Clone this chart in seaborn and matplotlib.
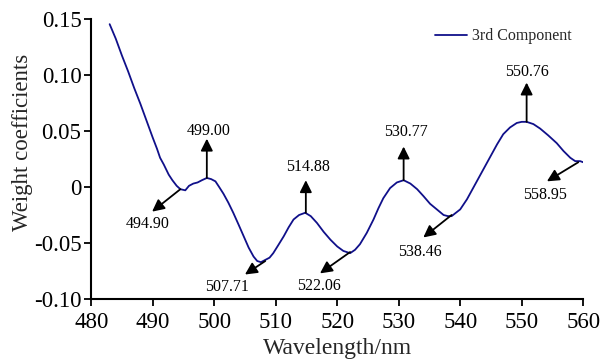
import matplotlib
matplotlib.use("Agg")
import matplotlib.pyplot as plt
import seaborn as sns
import pandas as pd

# wavelength (nm) and weight coefficients
wavelength = [483.0, 484.0, 485.0, 486.0, 487.0, 488.0, 489.0, 490.0, 490.7, 491.2,
              491.8, 492.6, 493.2, 493.9, 494.5, 495.3, 495.9, 496.6, 497.3, 498.0,
              498.8, 499.5, 500.2, 500.8, 501.5, 502.3, 503.1, 504.0, 504.8, 505.6,
              506.4, 507.0, 507.6, 508.3, 509.0, 509.6, 510.4, 511.3, 512.1, 512.9,
              513.8, 514.8, 515.7, 516.7, 517.8, 518.9, 520.0, 521.0, 522.1, 522.9,
              523.7, 524.8, 525.9, 526.7, 527.5, 528.6, 529.7, 530.8, 531.9, 533.0,
              534.0, 535.1, 536.2, 537.3, 538.0, 538.6, 539.3, 540.0, 541.1, 542.2,
              543.5, 544.9, 546.0, 547.0, 548.1, 549.2, 550.0, 550.8, 551.9, 553.0,
              554.3, 555.7, 556.8, 557.9, 558.7, 559.5, 560.0]
weight = [0.145, 0.132, 0.117, 0.103, 0.088, 0.074, 0.059, 0.044, 0.034, 0.026,
          0.020, 0.011, 0.006, 0.001, -0.002, -0.003, 0.001, 0.003, 0.004, 0.006,
          0.008, 0.007, 0.005, 0.000, -0.006, -0.014, -0.023, -0.034, -0.044, -0.054,
          -0.062, -0.066, -0.067, -0.065, -0.063, -0.059, -0.052, -0.044, -0.036, -0.029,
          -0.025, -0.023, -0.026, -0.032, -0.040, -0.047, -0.053, -0.057, -0.059, -0.056,
          -0.051, -0.041, -0.029, -0.019, -0.010, -0.001, 0.004, 0.006, 0.003, -0.002,
          -0.008, -0.015, -0.020, -0.025, -0.026, -0.026, -0.023, -0.020, -0.011, 0.000,
          0.013, 0.027, 0.038, 0.047, 0.053, 0.057, 0.058, 0.058, 0.056, 0.052,
          0.046, 0.039, 0.032, 0.026, 0.023, 0.023, 0.022]

# peak / valley labels
peak_labels = ["494.90", "499.00", "507.71", "514.88", "522.06", "530.77", "538.46", "550.76", "558.95"]
# arrow start (on curve), arrow tip, text centre
arrow_start = [(494.5, -0.002), (498.8, 0.008), (508.3, -0.066), (514.9, -0.023), (522.1, -0.058),
               (530.8, 0.006), (538.6, -0.025), (550.8, 0.058), (559.2, 0.022)]
arrow_tip = [(489.9, -0.022), (498.8, 0.043), (505.0, -0.078), (514.9, 0.006), (517.2, -0.077),
             (530.8, 0.036), (534.0, -0.045), (550.8, 0.093), (554.1, 0.005)]
text_pos = [(489.2, -0.033), (499.1, 0.050), (502.1, -0.089), (515.3, 0.018), (517.0, -0.088),
            (531.1, 0.049), (533.5, -0.058), (550.9, 0.102), (553.8, -0.007)]

yticks = [-0.10, -0.05, 0, 0.05, 0.10, 0.15]
ytick_labels = ["-0.10", "-0.05", "0", "0.05", "0.10", "0.15"]
xticks = [480, 490, 500, 510, 520, 530, 540, 550, 560]

sns.set_theme(style="ticks")
plt.rcParams["font.family"] = ["Liberation Serif", "DejaVu Serif"]
plt.rcParams["axes.unicode_minus"] = False

df = pd.DataFrame({"Wavelength": wavelength, "Weight": weight})

fig = plt.figure(figsize=(6, 3.64), dpi=100)
ax = fig.add_axes([0.152, 0.178, 0.82, 0.771])

sns.lineplot(data=df, x="Wavelength", y="Weight", ax=ax, color="#10108a",
             linewidth=1.3, label="3rd Component")

for lab, s, t, p in zip(peak_labels, arrow_start, arrow_tip, text_pos):
    ax.annotate("", xy=t, xytext=s,
                arrowprops=dict(arrowstyle="-|>", color="black", lw=1.3,
                                mutation_scale=18, shrinkA=0, shrinkB=0))
    ax.text(p[0], p[1], lab, ha="center", va="center", fontsize=11.5, color="black")

ax.set_xlim(480, 560)
ax.set_ylim(-0.10, 0.15)
ax.set_xticks(xticks)
ax.set_xticklabels([str(v) for v in xticks])
ax.set_yticks(yticks)
ax.set_yticklabels(ytick_labels)
ax.tick_params(axis="both", labelsize=16.5, direction="out", length=5, width=1.3,
               color="black", labelcolor="black")
ax.tick_params(axis="x", pad=4)
ax.tick_params(axis="y", pad=2)
ax.set_xlabel("Wavelength/nm", fontsize=17)
ax.set_ylabel("Weight coefficients", fontsize=16.5)
ax.xaxis.set_label_coords(0.5, -0.138)
ax.yaxis.set_label_coords(-0.118, 0.56)

for side in ["top", "right"]:
    ax.spines[side].set_visible(False)
for side in ["left", "bottom"]:
    ax.spines[side].set_color("black")
    ax.spines[side].set_linewidth(1.5)

ax.legend(loc="upper right", bbox_to_anchor=(0.995, 1.0), frameon=False, fontsize=11.5,
          handlelength=2.0, handletextpad=0.3, borderaxespad=0.2)

fig.savefig("out.png", dpi=100)
